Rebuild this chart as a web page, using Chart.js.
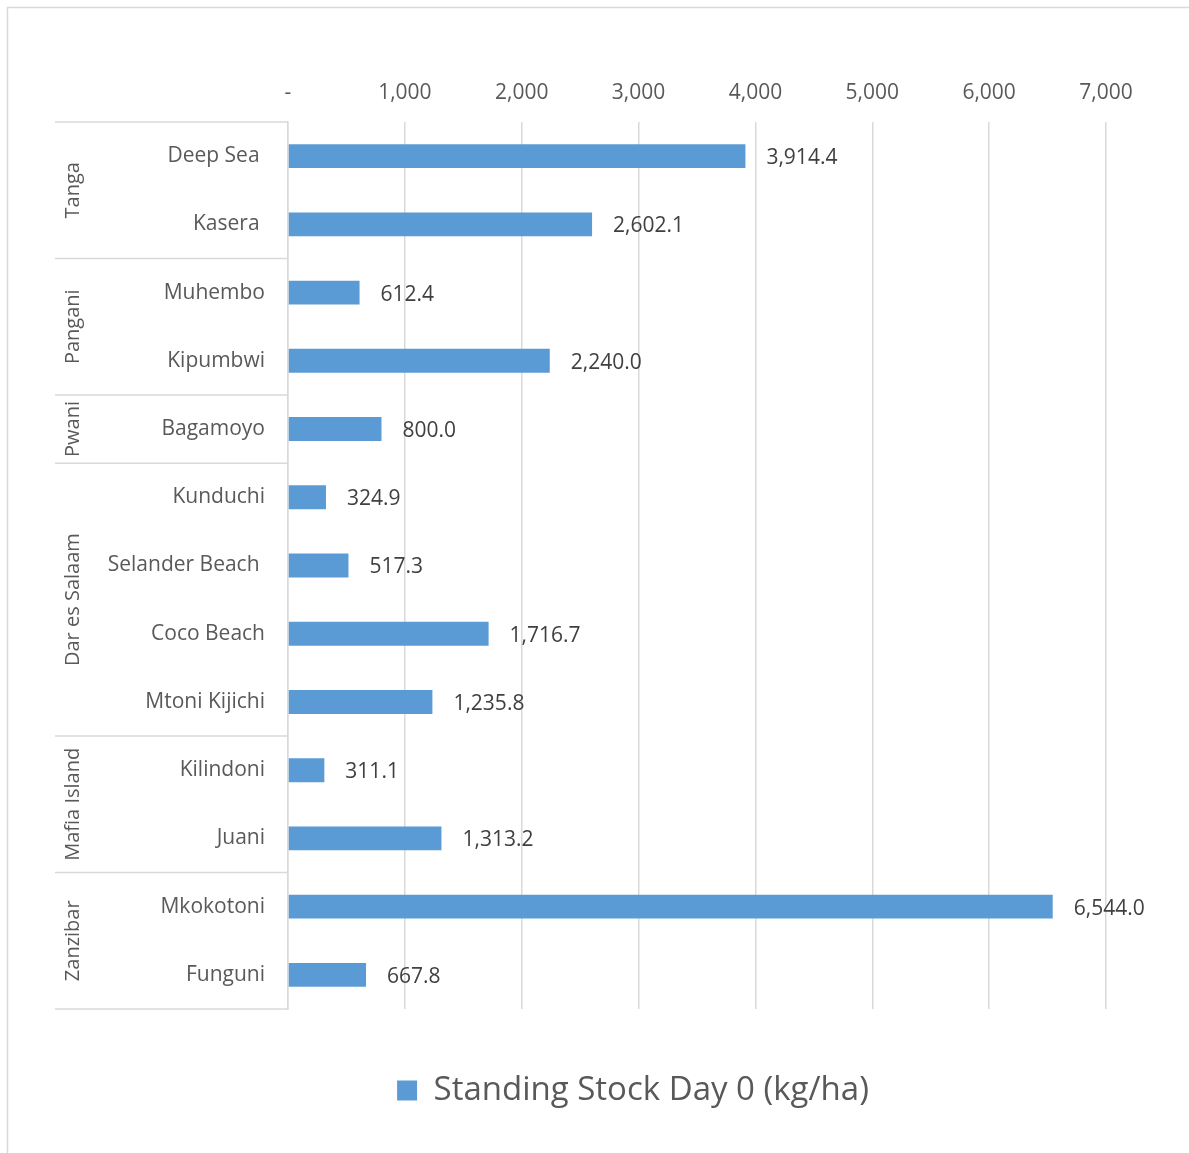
<!DOCTYPE html>
<html>
<head>
<meta charset="utf-8">
<script src="https://cdn.jsdelivr.net/npm/chart.js@4.4.1/dist/chart.umd.min.js"></script>
<style>
  html, body { margin: 0; padding: 0; background: #fff; }
  #wrap { position: relative; width: 1189px; height: 1153px; }
</style>
</head>
<body>
<div id="wrap"><canvas id="chart"></canvas></div>
<script>
const regions = ['Tanga', 'Pangani', 'Pwani', 'Dar es Salaam', 'Mafia Island', 'Zanzibar'];
const regionSizes = [2, 2, 1, 4, 2, 2];
// a few labels carry a trailing space in the source sheet
const sites = ['Deep Sea ', 'Kasera ', 'Muhembo', 'Kipumbwi', 'Bagamoyo', 'Kunduchi', 'Selander Beach ',
	'Coco Beach', 'Mtoni Kijichi', 'Kilindoni', 'Juani', 'Mkokotoni', 'Funguni'];
const standingStock = [3914.4, 2602.1, 612.4, 2240.0, 800.0, 324.9, 517.3, 1716.7, 1235.8, 311.1, 1313.2, 6544.0, 667.8];
const xMin = 0;
const xMax = 7000;
const xStep = 1000;
const seriesName = 'Standing Stock Day 0 (kg/ha)';

const FONT = '"Open Sans", "Noto Sans", sans-serif';
const GRID = '#d9d9d9';
const TEXT = '#595959';

// outer frame + white background
const frame = {
	id: 'frame',
	beforeDraw(chart) {
		const ctx = chart.ctx;
		ctx.save();
		ctx.fillStyle = '#fff';
		ctx.fillRect(0, 0, chart.width, chart.height);
		ctx.strokeStyle = GRID;
		ctx.lineWidth = 1.5;
		ctx.strokeRect(7.5, 7.5, chart.width + 20, chart.height + 20);
		ctx.restore();
	}
};

// legend sits a bit right of the canvas centre in the original
const legendShift = {
	id: 'legendShift',
	afterLayout(chart) {
		chart.legend.left = 160;
		chart.legend.right = chart.chartArea.right;
	}
};

// region labels and separator lines in the category area
const regionAxis = {
	id: 'regionAxis',
	afterDraw(chart) {
		const ctx = chart.ctx;
		const y = chart.scales.y;
		const right = chart.chartArea.left;
		const left = right - 233;
		const step = (y.bottom - y.top) / sites.length;
		ctx.save();
		ctx.strokeStyle = GRID;
		ctx.lineWidth = 1.5;
		let idx = 0;
		const edge = yy => {
			ctx.beginPath();
			ctx.moveTo(left, yy);
			ctx.lineTo(right, yy);
			ctx.stroke();
		};
		edge(y.top);
		ctx.fillStyle = TEXT;
		ctx.font = '20px ' + FONT;
		ctx.textAlign = 'center';
		ctx.textBaseline = 'middle';
		regions.forEach((name, i) => {
			const start = y.top + idx * step;
			idx += regionSizes[i];
			const end = y.top + idx * step;
			edge(end);
			ctx.save();
			ctx.translate(left + 18, (start + end) / 2);
			ctx.rotate(-Math.PI / 2);
			ctx.fillText(name, 0, 0);
			ctx.restore();
		});
		ctx.restore();
	}
};

// value labels next to bars
const valueLabels = {
	id: 'valueLabels',
	afterDatasetsDraw(chart) {
		const ctx = chart.ctx;
		const meta = chart.getDatasetMeta(0);
		ctx.save();
		ctx.fillStyle = '#404040';
		ctx.font = '21px ' + FONT;
		ctx.textAlign = 'left';
		ctx.textBaseline = 'middle';
		meta.data.forEach((bar, i) => {
			const v = standingStock[i];
			const txt = v.toLocaleString('en', { minimumFractionDigits: 1, maximumFractionDigits: 1 });
			ctx.fillText(txt, bar.x + 21, bar.y + 2);
		});
		ctx.restore();
	}
};

const padLeft = 55;

new Chart(document.getElementById('chart'), {
	type: 'bar',
	data: {
		labels: sites,
		datasets: [{
			label: seriesName,
			data: standingStock,
			backgroundColor: '#5b9bd5',
			borderWidth: 0,
			categoryPercentage: 1,
			barPercentage: 0.35
		}]
	},
	options: {
		indexAxis: 'y',
		responsive: true,
		maintainAspectRatio: false,
		animation: false,
		layout: { padding: { left: padLeft, right: 83, top: 50, bottom: 36 } },
		scales: {
			x: {
				position: 'top',
				min: xMin,
				max: xMax,
				afterFit: s => { s.height = 72; },
				border: { display: false },
				grid: { color: GRID, lineWidth: 1.5, drawTicks: false },
				ticks: {
					stepSize: xStep,
					autoSkip: false,
					maxRotation: 0,
					padding: 16,
					color: TEXT,
					font: { family: FONT, size: 21 },
					callback: v => v === 0 ? '-' : v.toLocaleString('en')
				}
			},
			y: {
				afterFit: s => { s.width = 288 - padLeft; },
				border: { display: true, color: GRID, width: 1.5 },
				grid: { display: false, drawTicks: false },
				ticks: {
					padding: 23,
					color: TEXT,
					font: { family: FONT, size: 21 }
				}
			}
		},
		plugins: {
			tooltip: { enabled: false },
			legend: {
				position: 'bottom',
				title: { display: true, text: '', font: { size: 12, lineHeight: '16px' }, padding: 19.5 },
				labels: {
					boxWidth: 20,
					boxHeight: 20,
					padding: 10,
					color: TEXT,
					font: { family: FONT, size: 33 }
				}
			}
		}
	},
	plugins: [frame, legendShift, regionAxis, valueLabels]
});
</script>
</body>
</html>
